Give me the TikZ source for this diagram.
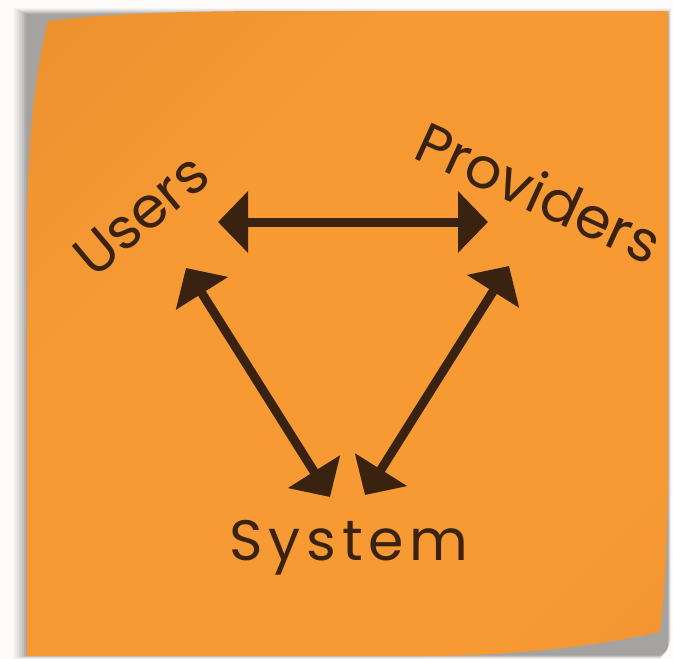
\documentclass[tikz,border=0pt]{standalone}
\usepackage{fontspec}
\setmainfont{Poppins}
\newfontfamily\spacedfont[LetterSpace=10]{Poppins}
\usetikzlibrary{arrows.meta}
\definecolor{bgwhite}{HTML}{FDFCFA}
\definecolor{noteorange}{HTML}{F79A34}
\definecolor{notedark}{HTML}{E28A2A}
\definecolor{notedarkb}{HTML}{EC8F2C}
\definecolor{ink}{HTML}{3A2210}
\pgfdeclarehorizontalshading{notegrad}{100bp}{color(0bp)=(notedark); color(35bp)=(noteorange); color(75bp)=(noteorange); color(100bp)=(notedarkb)}
\tikzset{
  label text/.style={text=ink, font=\fontsize{57}{60}\selectfont, inner sep=0pt},
  link/.style={draw=ink, line width=9pt, {Triangle[length=30pt,width=60pt]}-{Triangle[length=30pt,width=60pt]}},
}
\begin{document}
\begin{tikzpicture}[x=1pt,y=-1pt]
\useasboundingbox (0,0) rectangle (673,659);
\fill[bgwhite] (0,0) rectangle (673,659);
% shadow
\foreach \i/\o in {0/0.03,1/0.04,2/0.05,3/0.06,4/0.07,5/0.08,6/0.08} {
  \fill[black, opacity=\o] (13+2.2*\i,8+\i) -- (671-\i*0.5,8+\i) -- (671-\i*0.5,640) .. controls (668,650) .. (660,659-\i*0.6) -- (13+2.2*\i,659-\i*0.6) -- cycle;
}
% note
\path[shading=notegrad, shading angle=-45]
  (48,21) .. controls (120,12) and (200,11) .. (300,11) -- (668,11) -- (668,480)
  .. controls (667,560) and (664,600) .. (660,632)
  .. controls (600,645) and (520,656) .. (420,656) -- (27,656) -- (27,220)
  .. controls (28,140) and (35,70) .. (48,21) -- cycle;
% labels
\node[label text, rotate=40] (users) at (141,215) {Users};
\node[label text, rotate=-24.5] (providers) at (539,192) {Providers};
\node[label text, font=\spacedfont\fontsize{57}{60}\selectfont] (system) at (349,548) {System};
% arrow ends
\coordinate (uh) at (218,222);
\coordinate (ph) at (488,222);
\coordinate (ud) at (186,268);
\coordinate (su) at (330,497);
\coordinate (pd) at (509,266);
\coordinate (sp) at (365,495);
\draw[link] (uh) -- (ph);
\draw[link] (ud) -- (su);
\draw[link] (pd) -- (sp);
\end{tikzpicture}
\end{document}
